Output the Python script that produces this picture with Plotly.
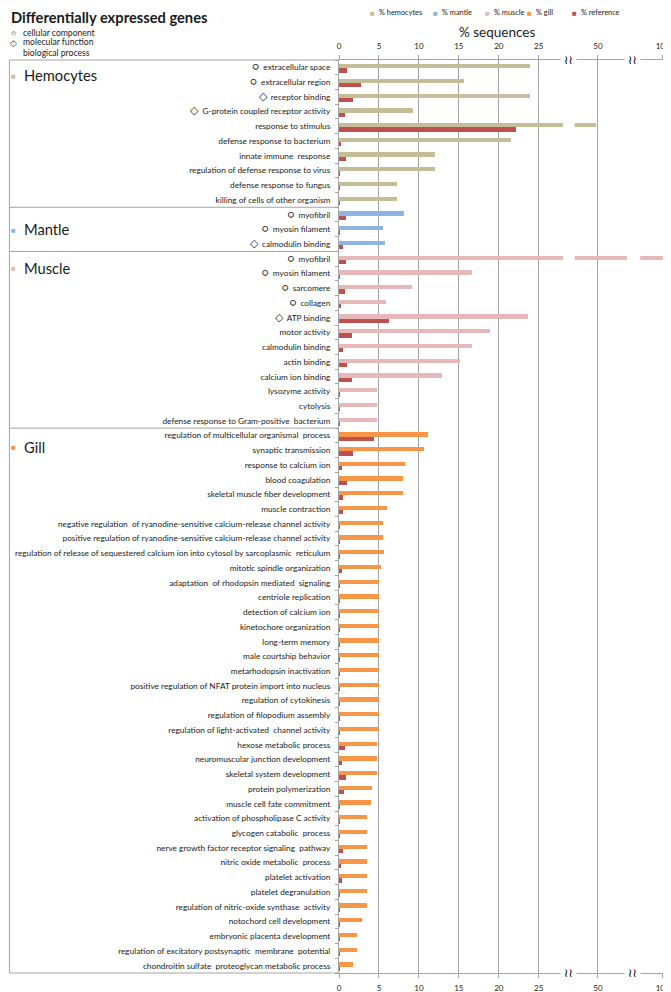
import plotly.graph_objects as go

# ---- data ----
tick_values = [0, 5, 10, 15, 20, 25, 50, 100]

hemocytes_terms = ["extracellular space", "extracellular region", "receptor binding",
                   "G-protein coupled receptor activity", "response to stimulus",
                   "defense response to bacterium", "innate immune  response",
                   "regulation of defense response to virus", "defense response to fungus",
                   "killing of cells of other organism"]
hemocytes_types = ["c", "c", "m", "m", "", "", "", "", "", ""]
hemocytes_pct = [23.9, 15.7, 23.9, 9.2, 49.4, 21.5, 12.0, 12.0, 7.25, 7.25]
hemocytes_ref = [1.05, 2.8, 1.8, 0.7, 22.1, 0.25, 0.9, 0.1, 0.1, 0.1]

mantle_terms = ["myofibril", "myosin filament", "calmodulin binding"]
mantle_types = ["c", "c", "m"]
mantle_pct = [8.1, 5.5, 5.7]
mantle_ref = [0.85, 0.1, 0.5]

muscle_terms = ["myofibril", "myosin filament", "sarcomere", "collagen", "ATP binding",
                "motor activity", "calmodulin binding", "actin binding", "calcium ion binding",
                "lysozyme activity", "cytolysis", "defense response to Gram-positive  bacterium"]
muscle_types = ["c", "c", "c", "c", "m", "", "", "", "", "", "", ""]
muscle_pct = [100, 16.7, 9.1, 5.9, 23.6, 18.9, 16.7, 15.1, 12.95, 4.75, 4.75, 4.75]
muscle_ref = [0.85, 0.1, 0.7, 0.3, 6.25, 1.6, 0.5, 0.95, 1.6, 0.1, 0.1, 0.1]

gill_terms = ["regulation of multicellular organismal  process", "synaptic transmission",
              "response to calcium ion", "blood coagulation", "skeletal muscle fiber development",
              "muscle contraction",
              "negative regulation  of ryanodine-sensitive calcium-release channel activity",
              "positive regulation of ryanodine-sensitive calcium-release channel activity",
              "regulation of release of sequestered calcium ion into cytosol by sarcoplasmic  reticulum",
              "mitotic spindle organization", "adaptation  of rhodopsin mediated  signaling",
              "centriole replication", "detection of calcium ion", "kinetochore organization",
              "long-term memory", "male courtship behavior", "metarhodopsin inactivation",
              "positive regulation of NFAT protein import into nucleus", "regulation of cytokinesis",
              "regulation of filopodium assembly", "regulation of light-activated  channel activity",
              "hexose metabolic process", "neuromuscular junction development",
              "skeletal system development", "protein polymerization", "muscle cell fate commitment",
              "activation of phospholipase C activity", "glycogen catabolic  process",
              "nerve growth factor receptor signaling  pathway", "nitric oxide metabolic  process",
              "platelet activation", "platelet degranulation",
              "regulation of nitric-oxide synthase  activity", "notochord cell development",
              "embryonic placenta development",
              "regulation of excitatory postsynaptic  membrane  potential",
              "chondroitin sulfate  proteoglycan metabolic process"]
gill_types = [""] * len(gill_terms)
gill_pct = [11.2, 10.7, 8.2, 8.0, 8.0, 6.0, 5.55, 5.55, 5.6, 5.3, 5.0,
            5.0, 5.0, 5.0, 5.0, 5.0, 5.0, 5.0, 5.0, 5.0, 5.0,
            4.7, 4.7, 4.7, 4.1, 4.05, 3.55, 3.55, 3.55, 3.55, 3.55, 3.55, 3.55,
            2.9, 2.3, 2.3, 1.8]
gill_ref = [4.4, 1.7, 0.4, 0.95, 0.5, 0.5, 0.1, 0.1, 0.1, 0.4, 0.1,
            0.1, 0.1, 0.1, 0.1, 0.1, 0.1, 0.1, 0.1, 0.1, 0.1,
            0.8, 0.4, 0.9, 0.6, 0.1, 0.1, 0.1, 0.45, 0.2, 0.4, 0.1, 0.1,
            0.1, 0.1, 0.1, 0.1]

groups = [
    ("Hemocytes", "% hemocytes", "#C4BD97", hemocytes_terms, hemocytes_types, hemocytes_pct, hemocytes_ref),
    ("Mantle", "% mantle", "#8DB4E2", mantle_terms, mantle_types, mantle_pct, mantle_ref),
    ("Muscle", "% muscle", "#E6B9B8", muscle_terms, muscle_types, muscle_pct, muscle_ref),
    ("Gill", "% gill", "#F79646", gill_terms, gill_types, gill_pct, gill_ref),
]
REF_COLOR = "#C0504D"
GRID = "#A3A3A3"
FONT = "Lato"
TEXT = "#1a1a1a"

# the page puts the figure 8px in from the top-left corner; the window crops the rest
OFF = 8
W, H = 671, 992


# broken axis: 0-25 linear, then 25-50 and 50-100 squeezed
def to_disp(v):
    if v <= 25:
        return v
    if v <= 50:
        return 25 + (v - 25) * 7.4 / 25
    return 32.4 + (v - 50) * 8.1 / 50


# plot area in page pixels: x 339..663.4, y 60..973
L, R, T, B = 339 - OFF, 663.4 - OFF, 60 - OFF, 973 - OFF


def px(x):
    return (x - OFF - L) / (R - L)


def py(y):
    return (B - (y - OFF)) / (B - T)


def tick_label(term, kind):
    if kind == "c":
        return "<span style='font-size:10.5px'>○</span>  " + term
    if kind == "m":
        return "<span style='font-size:10.5px'>◇</span>  " + term
    return term


fig = go.Figure()

all_labels, all_ref, boundaries = [], [], []
row = 0
for name, legend_name, color, terms, types, pct, ref in groups:
    rows = list(range(row, row + len(terms)))
    fig.add_trace(go.Bar(
        y=rows, x=[to_disp(v) for v in pct], orientation="h",
        offset=-0.22, width=0.29, marker=dict(color=color, line=dict(width=0)),
        name=legend_name, customdata=pct, hovertemplate="%{customdata}%<extra></extra>",
        showlegend=False,
    ))
    all_labels += [tick_label(t, k) for t, k in zip(terms, types)]
    all_ref += ref
    row += len(terms)
    boundaries.append(row - 0.5)

n_rows = row
fig.add_trace(go.Bar(
    y=list(range(n_rows)), x=[to_disp(v) for v in all_ref], orientation="h",
    offset=0.07, width=0.29, marker=dict(color=REF_COLOR, line=dict(width=0)),
    name="% reference", customdata=all_ref, hovertemplate="%{customdata}%<extra></extra>",
    showlegend=False,
))
# invisible anchor for the top axis
fig.add_trace(go.Scatter(x=[0], y=[0], xaxis="x2", mode="markers",
                         marker=dict(opacity=0), hoverinfo="skip", showlegend=False))

tickvals = [to_disp(t) for t in tick_values]
ticktext = [str(t) for t in tick_values]
xr = [0, to_disp(100) + 0.05]

shapes = []
# white gaps of the broken axis
for g0, g1 in [(28.04, 29.5), (36.04, 37.7)]:
    shapes.append(dict(type="rect", xref="x", yref="paper", x0=g0, x1=g1, y0=0, y1=1,
                       fillcolor="white", line=dict(width=0), layer="above"))
# frame around the label column
line_style = dict(color=GRID, width=1)
FRAME_X = 9
shapes.append(dict(type="line", xref="paper", yref="paper", x0=px(FRAME_X), x1=px(FRAME_X), y0=0, y1=1, line=line_style))
shapes.append(dict(type="line", xref="paper", yref="paper", x0=px(FRAME_X), x1=0, y0=1, y1=1, line=line_style))
shapes.append(dict(type="line", xref="paper", yref="paper", x0=px(FRAME_X), x1=0, y0=0, y1=0, line=line_style))
for b in boundaries[:-1]:
    shapes.append(dict(type="line", xref="paper", yref="y", x0=px(FRAME_X), x1=0, y0=b, y1=b, line=line_style))

annotations = []
# title and GO category key
annotations.append(dict(text="<b>Differentially expressed genes</b>", x=px(9), y=py(17), xref="paper", yref="paper",
                        xanchor="left", yanchor="middle", showarrow=False,
                        font=dict(family=FONT, size=14.7, color=TEXT)))
for sym, txt, yy in [("○", "cellular component", 32.5), ("◇", "molecular function", 42.5), ("", "biological process", 52.5)]:
    if sym:
        annotations.append(dict(text=sym, x=px(13), y=py(yy), xref="paper", yref="paper",
                                xanchor="center", yanchor="middle", showarrow=False,
                                font=dict(size=8.5, color=TEXT)))
    annotations.append(dict(text=txt, x=px(21), y=py(yy), xref="paper", yref="paper",
                            xanchor="left", yanchor="middle", showarrow=False,
                            font=dict(family=FONT, size=8.6, color=TEXT)))
# legend row
legend_items = [(g[1], g[2]) for g in groups] + [("% reference", REF_COLOR)]
legend_x = [373, 436, 488, 530, 575]
for (txt, col), lx in zip(legend_items, legend_x):
    annotations.append(dict(text="■", x=px(lx), y=py(13), xref="paper", yref="paper",
                            xanchor="center", yanchor="middle", showarrow=False,
                            font=dict(size=8, color=col)))
    annotations.append(dict(text=txt, x=px(lx + 4), y=py(13), xref="paper", yref="paper",
                            xanchor="left", yanchor="middle", showarrow=False,
                            font=dict(family=FONT, size=7.4, color=TEXT)))
annotations.append(dict(text="% sequences", x=px(497), y=py(31.5), xref="paper", yref="paper",
                        xanchor="center", yanchor="middle", showarrow=False,
                        font=dict(family=FONT, size=13.5, color=TEXT)))
# group names
name_rows = [0.55, 11.0, 13.6, 25.75]
for (name, _, color, *_rest), ny in zip(groups, name_rows):
    annotations.append(dict(text="■", x=px(13), y=ny, xref="paper", yref="y",
                            xanchor="center", yanchor="middle", showarrow=False,
                            font=dict(size=8, color=color)))
    annotations.append(dict(text=name, x=px(22), y=ny, xref="paper", yref="y",
                            xanchor="left", yanchor="middle", showarrow=False,
                            font=dict(family=FONT, size=14.7, color=TEXT)))
# axis break marks
for bx in [28.75, 36.7]:
    for by in [1, 0]:
        annotations.append(dict(text="≀≀", x=bx, y=by, xref="x", yref="paper",
                                xanchor="center", yanchor="middle", showarrow=False,
                                bgcolor="white", borderpad=3,
                                font=dict(family="DejaVu Sans", size=12, color="#000")))

axis_common = dict(range=xr, tickmode="array", tickvals=tickvals, ticktext=ticktext,
                   showline=True, linecolor=GRID, linewidth=1, ticks="outside", ticklen=4,
                   tickcolor=GRID, zeroline=False, automargin=False, ticklabeloverflow="allow",
                   tickfont=dict(family=FONT, size=8, color=TEXT))

fig.update_layout(
    width=W, height=H,
    margin=dict(l=L, r=W - R, t=T, b=H - B, autoexpand=False),
    paper_bgcolor="white", plot_bgcolor="white",
    barmode="overlay", bargap=0,
    showlegend=False,
    xaxis=dict(**axis_common, showgrid=True, gridcolor=GRID, gridwidth=1, ticklabelstandoff=3),
    xaxis2=dict(**axis_common, overlaying="x", side="top", showgrid=False, ticklabelstandoff=3),
    yaxis=dict(range=[n_rows - 0.5, -0.5], tickmode="array", tickvals=list(range(n_rows)),
               ticktext=all_labels, showline=True, linecolor=GRID, linewidth=1, automargin=False,
               showgrid=False, zeroline=False, ticks="", ticklabelstandoff=6,
               tickfont=dict(family=FONT, size=8.3, color=TEXT),
               minor=dict(tick0=0.5, dtick=1, ticks="outside", ticklen=3, tickcolor=GRID)),
    shapes=shapes, annotations=annotations,
)

fig.write_html("out.html")
